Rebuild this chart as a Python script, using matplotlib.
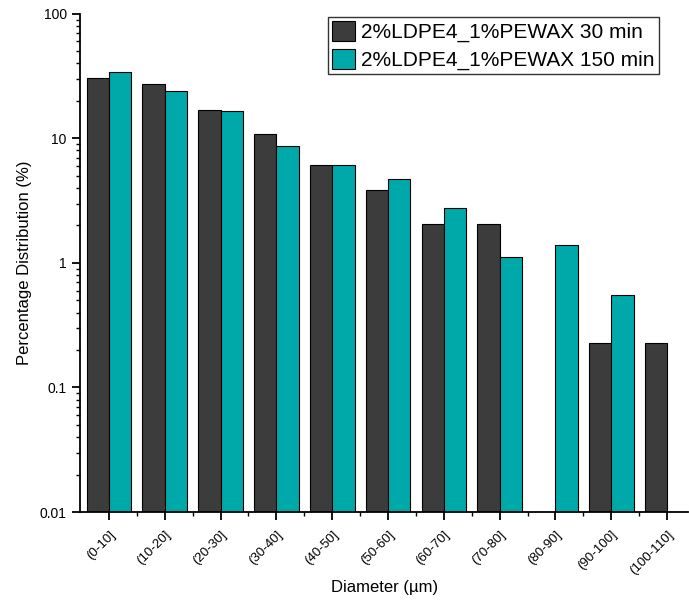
import matplotlib
matplotlib.use('Agg')
import matplotlib.pyplot as plt
from matplotlib.ticker import FixedLocator, LogLocator, NullFormatter
import numpy as np

plt.rcParams['font.family'] = ['Liberation Sans', 'DejaVu Sans']

categories = ['(0-10]', '(10-20]', '(20-30]', '(30-40]', '(40-50]', '(50-60]',
              '(60-70]', '(70-80]', '(80-90]', '(90-100]', '(100-110]']
# 0 means no bar drawn
min30 = [30.8, 27.2, 16.9, 10.9, 6.13, 3.86, 2.04, 2.04, 0, 0.226, 0.226]
min150 = [34.0, 24.0, 16.5, 8.67, 6.13, 4.73, 2.78, 1.11, 1.39, 0.555, 0]
labels = ['2%LDPE4_1%PEWAX 30 min', '2%LDPE4_1%PEWAX 150 min']
yticks = [0.01, 0.1, 1, 10, 100]
ytick_labels = ['0.01', '0.1', '1', '10', '100']

fig = plt.figure(figsize=(6.89, 6.01), dpi=100)
ax = fig.add_axes([0.116, 0.148, 0.883, 0.829])

x = np.arange(len(categories))
w = 0.4
h30 = np.array(min30, dtype=float) - 0.01
h150 = np.array(min150, dtype=float) - 0.01
h30[np.array(min30) == 0] = 0
h150[np.array(min150) == 0] = 0
ax.bar(x - w/2, h30, w, bottom=0.01, color='#3c3c3c', edgecolor='black',
       linewidth=0.8, label=labels[0])
ax.bar(x + w/2, h150, w, bottom=0.01, color='#00a9a9', edgecolor='black',
       linewidth=0.8, label=labels[1])

ax.set_yscale('log')
ax.set_ylim(0.01, 100)
ax.set_xlim(-0.52, 10.38)
ax.yaxis.set_major_locator(FixedLocator(yticks))
ax.set_yticklabels(ytick_labels)
ax.yaxis.set_minor_locator(LogLocator(base=10, subs=np.arange(2, 10)))
ax.yaxis.set_minor_formatter(NullFormatter())

ax.set_xticks(x)
ax.set_xticklabels(categories, rotation=45, ha='right', rotation_mode='anchor',
                   fontsize=9.5)
ax.set_xticks(x[:-1] + 0.5, minor=True)

for s in ['top', 'right']:
    ax.spines[s].set_visible(False)
for s in ['left', 'bottom']:
    ax.spines[s].set_linewidth(1.3)
ax.tick_params(axis='both', which='major', direction='out', length=6, width=1.3,
               labelsize=10)
ax.tick_params(axis='x', which='major', labelsize=9.5, pad=6)
ax.tick_params(axis='both', which='minor', direction='out', length=3, width=1.0)

ax.set_xlabel('Diameter (µm)', fontsize=12, labelpad=2)
ax.set_ylabel('Percentage Distribution (%)', fontsize=12, labelpad=6)

leg = ax.legend(loc='upper right', bbox_to_anchor=(0.951, 0.994), fontsize=15,
                frameon=True, fancybox=False, edgecolor='black',
                handlelength=1.1, handleheight=1.1, handletextpad=0.3,
                borderpad=0.2, labelspacing=0.3, borderaxespad=0.0)
leg.get_frame().set_linewidth(1.0)

fig.savefig('out.png', dpi=100)
